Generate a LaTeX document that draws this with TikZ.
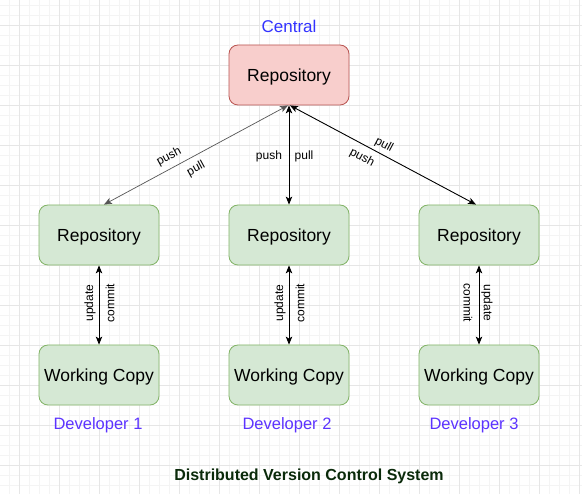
\documentclass[tikz,border=0pt]{standalone}
\usepackage{fontspec}
\setmainfont{Liberation Sans}
\usetikzlibrary{arrows.meta}
\definecolor{redfill}{HTML}{F8CECC}
\definecolor{redline}{HTML}{B85450}
\definecolor{greenfill}{HTML}{D5E8D4}
\definecolor{greenline}{HTML}{82B366}
\definecolor{centralblue}{HTML}{3333FF}
\definecolor{devblue}{HTML}{5C33FF}
\definecolor{titlegreen}{HTML}{0A2A0A}
\definecolor{gridminor}{HTML}{F4F4F4}
\definecolor{gridmajor}{HTML}{E6E6E6}
\definecolor{leftgray}{HTML}{555555}
\tikzset{
  box/.style={draw, line width=0.8pt, rounded corners=9pt, minimum width=120pt, minimum height=60pt, inner sep=0pt, font=\fontsize{17.5}{20}\selectfont},
  repogreen/.style={box, fill=greenfill, draw=greenline},
  repored/.style={box, fill=redfill, draw=redline},
  boxtext/.style={inner sep=0pt, font=\fontsize{17.5}{20}\selectfont},
  arr/.style={line width=0.9pt, {Stealth[length=8pt,width=6.5pt,inset=2pt]}-{Stealth[length=8pt,width=6.5pt,inset=2pt]}},
  lbl/.style={font=\fontsize{12}{14}\selectfont, inner sep=0pt},
  devlbl/.style={font=\fontsize{16.5}{19}\selectfont, text=devblue, inner sep=0pt},
}
\begin{document}
\begin{tikzpicture}[x=1pt,y=-1pt]
\useasboundingbox (0,0) rectangle (582,494);
\fill[white] (0,0) rectangle (582,494);
% grid
\foreach \gx in {9,19,...,579} \draw[gridminor, line width=0.6pt] (\gx,0) -- (\gx,494);
\foreach \gy in {5,15,...,494} \draw[gridminor, line width=0.6pt] (0,\gy) -- (582,\gy);
\foreach \gx in {19,59,...,579} \draw[gridmajor, line width=0.8pt] (\gx,0) -- (\gx,494);
\foreach \gy in {25,65,...,494} \draw[gridmajor, line width=0.8pt] (0,\gy) -- (582,\gy);

% boxes
\node[repored] (c) at (289,75) {};
\node[repogreen] (r1) at (99,235) {};
\node[repogreen] (r2) at (289,235) {};
\node[repogreen] (r3) at (479,235) {};
\node[repogreen] (w1) at (99,375) {};
\node[repogreen] (w2) at (289,375) {};
\node[repogreen] (w3) at (479,375) {};
\node[boxtext] (ct) at ([yshift=-1.5pt]c.center) {Repository};
\node[boxtext] (r1t) at ([yshift=-1.5pt]r1.center) {Repository};
\node[boxtext] (r2t) at ([yshift=-1.5pt]r2.center) {Repository};
\node[boxtext] (r3t) at ([yshift=-1.5pt]r3.center) {Repository};
\node[boxtext] (w1t) at ([yshift=-1.5pt]w1.center) {Working Copy};
\node[boxtext] (w2t) at ([yshift=-1.5pt]w2.center) {Working Copy};
\node[boxtext] (w3t) at ([yshift=-1.5pt]w3.center) {Working Copy};

% labels
\node[font=\fontsize{17}{20}\selectfont, text=centralblue, inner sep=0pt] (central) at (289,26) {Central};
\node[devlbl] (d1) at (98,425) {Developer 1};
\node[devlbl] (d2) at (287,425) {Developer 2};
\node[devlbl] (d3) at (474,425) {Developer 3};
\node[font=\bfseries\fontsize{16}{19}\selectfont, text=titlegreen, inner sep=0pt] (title) at (309,476) {Distributed Version Control System};

% connectors
\draw[arr, leftgray, line width=0.7pt] ([xshift=-1pt]c.south) -- ([xshift=5pt]r1.north);
\draw[arr] (c.south) -- (r2.north);
\draw[arr] ([xshift=1pt]c.south) -- ([xshift=-3pt]r3.north);
\draw[arr] (r1.south) -- (w1.north);
\draw[arr] (r2.south) -- (w2.north);
\draw[arr] (r3.south) -- (w3.north);

% connector labels
\node[lbl, rotate=28.4] (l1a) at (169,157) {push};
\node[lbl, rotate=28.4] (l1b) at (196,169) {pull};
\node[lbl] (l2a) at (269,156) {push};
\node[lbl] (l2b) at (304,156) {pull};
\node[lbl, rotate=-28.1] (l3a) at (384,145) {pull};
\node[lbl, rotate=-28.1] (l3b) at (362,158) {push};
\node[lbl, rotate=90] (u1) at (90,303) {update};
\node[lbl, rotate=90] (m1) at (110,303) {commit};
\node[lbl, rotate=90] (u2) at (280,303) {update};
\node[lbl, rotate=90] (m2) at (300,303) {commit};
\node[lbl, rotate=-90] (m3) at (468,303) {commit};
\node[lbl, rotate=-90] (u3) at (487,303) {update};
\end{tikzpicture}
\end{document}
